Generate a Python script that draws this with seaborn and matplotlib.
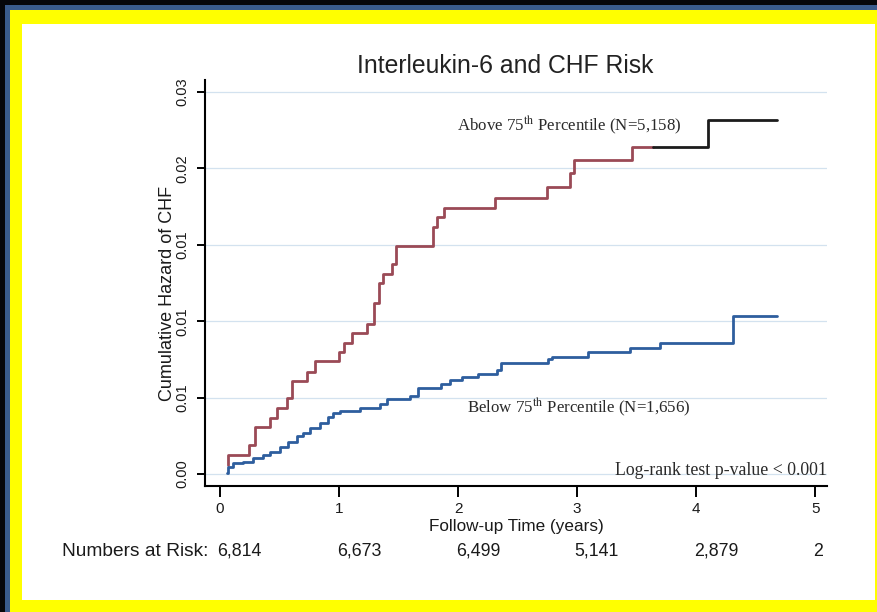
import numpy as np
import pandas as pd
import matplotlib
matplotlib.use("Agg")
import matplotlib.pyplot as plt
from matplotlib.patches import Rectangle
import seaborn as sns

# ---------------- data ----------------
title = "Interleukin-6 and CHF Risk"
ylabel = "Cumulative Hazard of CHF"
xlabel = "Follow-up Time (years)"
xticks = [0, 1, 2, 3, 4, 5]
xtick_labels = ["0", "1", "2", "3", "4", "5"]
yticks = [0.0, 0.005, 0.010, 0.015, 0.020, 0.025]
ytick_labels = ["0.00", "0.01", "0.01", "0.01", "0.02", "0.03"]
risk_label = "Numbers at Risk:"
risk_counts = ["6,814", "6,673", "6,499", "5,141", "2,879", "2"]

above_label = r"Above 75$^{\mathrm{th}}$ Percentile (N=5,158)"
below_label = r"Below 75$^{\mathrm{th}}$ Percentile (N=1,656)"
pvalue_label = "Log-rank test p-value < 0.001"

above_t = [0.070, 0.071, 0.246, 0.294, 0.420, 0.476, 0.563, 0.603, 0.731, 0.798,
           1.004, 1.046, 1.107, 1.231, 1.294, 1.336, 1.370, 1.443, 1.475, 1.786,
           1.824, 1.882, 2.311, 2.745, 2.941, 2.975, 3.460, 4.101, 4.678]
above_h = [0.00059, 0.00124, 0.00190, 0.00308, 0.00366, 0.00432, 0.00497, 0.00609,
           0.00668, 0.00740, 0.00798, 0.00857, 0.00923, 0.00982, 0.01119, 0.01250,
           0.01306, 0.01374, 0.01495, 0.01616, 0.01682, 0.01741, 0.01806, 0.01878,
           0.01970, 0.02055, 0.02140, 0.02317, 0.02317]
above_switch_t = 3.64   # colour of the upper curve changes to black here

below_t = [0.056, 0.067, 0.109, 0.193, 0.277, 0.361, 0.420, 0.504, 0.571, 0.645,
           0.697, 0.756, 0.840, 0.908, 0.950, 1.008, 1.176, 1.345, 1.403, 1.597,
           1.664, 1.857, 1.933, 2.034, 2.168, 2.328, 2.361, 2.756, 2.790, 3.092,
           3.445, 3.697, 4.311, 4.678]
below_h = [0.000085, 0.00046, 0.00072, 0.00080, 0.00105, 0.00124, 0.00146, 0.00179,
           0.00211, 0.00249, 0.00270, 0.00301, 0.00336, 0.00373, 0.00399, 0.00412,
           0.00435, 0.00458, 0.00488, 0.00510, 0.00563, 0.00592, 0.00615, 0.00635,
           0.00654, 0.00681, 0.00726, 0.00753, 0.00769, 0.00798, 0.00823, 0.00855,
           0.01034, 0.01034]

# ---------------- build frames ----------------
at = np.array(above_t)
ah = np.array(above_h)
sw_val = ah[at <= above_switch_t][-1]
early = pd.DataFrame({"t": np.append(at[at < above_switch_t], above_switch_t),
                      "h": np.append(ah[at < above_switch_t], sw_val),
                      "series": "above_early"})
late = pd.DataFrame({"t": np.insert(at[at > above_switch_t], 0, above_switch_t),
                     "h": np.insert(ah[at > above_switch_t], 0, sw_val),
                     "series": "above_late"})
low = pd.DataFrame({"t": below_t, "h": below_h, "series": "below"})
df = pd.concat([early, late, low], ignore_index=True)

palette = {"above_early": "#9a4a56", "above_late": "#1c1c1c", "below": "#2e5e9e"}

# ---------------- figure ----------------
sns.set_style("white")
plt.rcParams["font.family"] = ["Liberation Sans", "DejaVu Sans"]
plt.rcParams["mathtext.fontset"] = "stix"

W, H = 877, 612
fig = plt.figure(figsize=(W / 100, H / 100), dpi=100)
fig.patch.set_facecolor("#06060a")


def prect(x0, y0, x1, y1, color):
    r = Rectangle((x0 / W, 1 - y1 / H), (x1 - x0) / W, (y1 - y0) / H,
                  transform=fig.transFigure, facecolor=color, edgecolor="none",
                  zorder=-10)
    fig.add_artist(r)


prect(5, 5, 877, 612, "#3a5b8c")
prect(10, 10, 877, 612, "#ffff00")
prect(22, 24, 875, 600, "#ffffff")

ax_l, ax_r, ax_t, ax_b = 205, 827, 80, 486
ax = fig.add_axes([ax_l / W, 1 - ax_b / H, (ax_r - ax_l) / W, (ax_b - ax_t) / H])
ax.set_facecolor("white")

sns.lineplot(data=df, x="t", y="h", hue="series", palette=palette,
             drawstyle="steps-post", estimator=None, sort=False,
             linewidth=2.0, legend=False, ax=ax)

ax.set_xlim(-0.126, 5.10)
ax.set_ylim(-0.000785, 0.02579)

ax.set_xticks(xticks)
ax.set_xticklabels(xtick_labels)
ax.set_yticks(yticks)
ax.set_yticklabels(ytick_labels)

for s in ["top", "right"]:
    ax.spines[s].set_visible(False)
for s in ["left", "bottom"]:
    ax.spines[s].set_color("black")
    ax.spines[s].set_linewidth(1.5)

ax.tick_params(axis="x", direction="out", length=8, width=1.4, color="black",
               pad=3.5, labelsize=11, labelcolor="#1a1a1a", bottom=True)
ax.tick_params(axis="y", direction="out", length=6, width=1.4, color="black",
               pad=5, labelsize=10.5, labelcolor="#1a1a1a", left=True,
               labelrotation=90)
for lab in ax.get_yticklabels():
    lab.set_va("center")
    lab.set_ha("right")

ax.yaxis.grid(True, color="#d3e2ef", linewidth=0.9)
ax.xaxis.grid(False)
ax.set_axisbelow(True)

ax.set_xlabel(xlabel, fontsize=12.3, color="#1a1a1a")
ax.xaxis.set_label_coords(0.5, (ax_b - 527) / (ax_b - ax_t))
ax.xaxis.label.set_va("center")
ax.set_ylabel(ylabel, fontsize=13, color="#1a1a1a")
ax.yaxis.set_label_coords((167 - ax_l) / (ax_r - ax_l), (ax_b - 293) / (ax_b - ax_t))
ax.yaxis.label.set_va("center")
ax.yaxis.label.set_ha("center")

fig.text(505 / W, 1 - 66 / H, title, ha="center", va="center",
         fontsize=17.8, color="#222222")

serif = ["Liberation Serif", "DejaVu Serif"]
ax.text(1.99, 0.0229, above_label, family=serif, fontsize=12.2,
        ha="left", va="center", color="#2a2a2a")
ax.text(2.076, 0.00438, below_label, family=serif, fontsize=12.2,
        ha="left", va="center", color="#2a2a2a")
ax.text(5.10, 0.00026, pvalue_label, family=serif, fontsize=12.8,
        ha="right", va="center", color="#2a2a2a")

# numbers at risk row
row_y = 1 - 551 / H
fig.text(135 / W, row_y, risk_label, ha="center", va="center",
         fontsize=13.8, color="#1a1a1a")
btrans = matplotlib.transforms.blended_transform_factory(ax.transData, fig.transFigure)
for xv, c in zip(xticks, risk_counts):
    ax.text(xv - 0.02, row_y, c, transform=btrans, ha="left", va="center",
            fontsize=12.8, color="#1a1a1a", clip_on=False)

fig.savefig("out.png", dpi=100, facecolor=fig.get_facecolor())
